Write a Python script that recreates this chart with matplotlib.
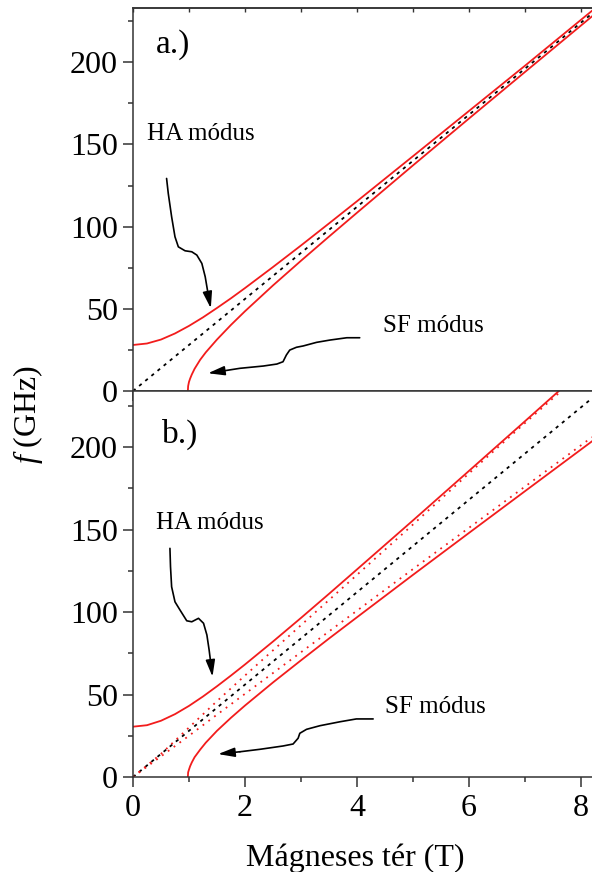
import matplotlib
matplotlib.use('Agg')
import matplotlib.pyplot as plt
from matplotlib.ticker import MultipleLocator

plt.rcParams['font.family'] = ['Liberation Serif', 'DejaVu Serif']
plt.rcParams['mathtext.fontset'] = 'custom'
plt.rcParams['mathtext.it'] = 'Liberation Serif:italic'
plt.rcParams['mathtext.rm'] = 'Liberation Serif'

# ---------------- data ----------------
# panel a
a_ha_B = [0, 0.25, 0.5, 0.75, 1.0, 1.25, 1.5, 1.75, 2.0, 2.5, 3.0, 3.5, 4.0, 5.0, 6.0, 7.0, 8.2]
a_ha_f = [28, 28.9, 31.3, 35.0, 39.6, 44.8, 50.5, 56.4, 62.6, 75.4, 88.5, 101.9, 115.4, 142.8, 170.3, 197.8, 231.3]
a_sf_B = [0.98, 0.985, 1.0, 1.02, 1.05, 1.1, 1.2, 1.3, 1.5, 1.75, 2.0, 2.5, 3.0, 3.5, 4.0, 5.0, 6.0, 7.0, 8.2]
a_sf_f = [0, 3.0, 5.5, 7.5, 10.0, 13.5, 19.0, 23.5, 31.3, 40.2, 48.5, 64.2, 79.2, 93.9, 108.4, 137.2, 165.7, 194.0, 227.9]
a_ref_B = [0, 8.2]
a_ref_f = [0, 229.6]

# panel b
b_ha_B = [0, 0.25, 0.5, 0.75, 1.0, 1.25, 1.5, 1.75, 2.0, 2.5, 3.0, 3.5, 4.0, 5.0, 6.0, 7.0, 7.7]
b_ha_f = [30.5, 31.4, 34.1, 38.1, 43.1, 48.8, 55.0, 61.5, 68.2, 82.1, 96.4, 111.0, 125.8, 155.5, 185.5, 215.6, 236.8]
b_sf_B = [0.98, 0.985, 1.0, 1.02, 1.05, 1.1, 1.2, 1.3, 1.5, 1.75, 2.0, 2.5, 3.0, 3.5, 4.0, 5.0, 6.0, 7.0, 8.2]
b_sf_f = [0, 2.8, 4.5, 6.5, 8.8, 12.0, 16.6, 20.8, 28.0, 35.9, 43.3, 57.3, 70.7, 83.9, 96.8, 122.5, 147.9, 173.2, 203.5]
b_up_dot_B = [0, 0.5, 1.0, 1.5, 2.0, 3.0, 4.0, 5.0, 6.0, 7.0, 7.65]
b_up_dot_f = [0, 14.0, 30.0, 46.0, 61.5, 92.0, 122.5, 153.0, 184.0, 214.5, 234.0]
b_lo_dot_B = [0, 0.5, 1.0, 1.5, 2.0, 3.0, 4.0, 5.0, 6.0, 7.0, 8.2]
b_lo_dot_f = [0, 12.5, 25.0, 37.8, 50.4, 75.6, 100.8, 126.0, 151.0, 176.0, 206.0]
b_ref_B = [0, 8.2]
b_ref_f = [0, 229.6]

# annotation arrow paths (data coords, last point = arrow tip)
a_ha_arrow_B = [0.60, 0.63, 0.69, 0.75, 0.81, 0.93, 1.05, 1.14, 1.23, 1.29, 1.33, 1.36, 1.39]
a_ha_arrow_f = [129.3, 120.2, 106.0, 93.8, 87.7, 85.3, 84.7, 82.7, 77.6, 69.5, 61.4, 55.3, 50.3]
a_sf_arrow_B = [4.05, 3.82, 3.52, 3.28, 3.04, 2.92, 2.80, 2.74, 2.68, 2.57, 2.33, 1.91, 1.61, 1.34]
a_sf_arrow_f = [32.4, 32.4, 31.0, 29.6, 27.4, 26.6, 24.9, 21.9, 17.8, 16.4, 15.2, 13.8, 12.2, 10.8]
b_ha_arrow_B = [0.66, 0.67, 0.69, 0.75, 0.84, 0.96, 1.05, 1.17, 1.26, 1.32, 1.36, 1.39, 1.42]
b_ha_arrow_f = [138.6, 127.5, 115.3, 106.2, 101.2, 94.7, 94.1, 96.2, 93.2, 86.1, 77.0, 68.9, 60.8]
b_sf_arrow_B = [4.29, 3.99, 3.70, 3.34, 3.10, 2.98, 2.95, 2.86, 2.68, 2.27, 1.91, 1.52]
b_sf_arrow_f = [35.2, 35.2, 33.5, 31.1, 28.9, 26.5, 23.5, 20.0, 18.8, 16.8, 15.3, 13.9]

RED = '#f21c1c'
FS = 23

fig = plt.figure(figsize=(5.92, 8.72), dpi=100)
L = 133 / 592
W = 1 - L
ax_a = fig.add_axes([L, 1 - 391 / 872, W, (391 - 8) / 872])
ax_b = fig.add_axes([L, 1 - 777 / 872, W, (777 - 391) / 872])


def style(ax, ytop, labels):
    ax.set_xlim(0, 8.2)
    ax.set_ylim(0, ytop)
    ax.xaxis.set_major_locator(MultipleLocator(2))
    ax.xaxis.set_minor_locator(MultipleLocator(1))
    ax.yaxis.set_major_locator(MultipleLocator(50))
    ax.yaxis.set_minor_locator(MultipleLocator(25))
    ax.tick_params(which='major', direction='out', length=7, width=1.1,
                   labelsize=FS, color='#333333', pad=4)
    ax.tick_params(which='minor', direction='out', length=3.5, width=1.1, color='#333333')
    ax.tick_params(axis='x', labelbottom=labels, pad=5)
    ax.spines['right'].set_visible(False)
    for s in ['left', 'bottom', 'top']:
        ax.spines[s].set_linewidth(1.1)
        ax.spines[s].set_color('#333333')


def arrow(ax, xs, ys):
    ax.plot(xs[:-1], ys[:-1], color='black', lw=1.2, solid_capstyle='round',
            solid_joinstyle='round', zorder=4)
    ax.annotate('', xy=(xs[-1], ys[-1]), xytext=(xs[-2], ys[-2]),
                arrowprops=dict(arrowstyle='-|>,head_length=1.0,head_width=0.28', color='black',
                                lw=1.2, shrinkA=0, shrinkB=0), zorder=4)


style(ax_a, 233, False)
style(ax_b, 234, True)
sec = ax_a.secondary_xaxis('top')
sec.xaxis.set_major_locator(MultipleLocator(1))
sec.tick_params(direction='in', length=3, width=1.0, labeltop=False, color='#333333')
sec.spines['top'].set_linewidth(1.1)
sec.spines['top'].set_color('#333333')

dash = (0, (1.8, 2.6))
dots = (0, (1, 3))

# panel a
ax_a.plot(a_ref_B, a_ref_f, color='black', lw=1.3, linestyle=dash)
ax_a.plot(a_ha_B, a_ha_f, color=RED, lw=1.3)
ax_a.plot(a_sf_B, a_sf_f, color=RED, lw=1.3)
arrow(ax_a, a_ha_arrow_B, a_ha_arrow_f)
arrow(ax_a, a_sf_arrow_B, a_sf_arrow_f)
ax_a.text(0.41, 205.5, 'a.)', fontsize=24, va='baseline', ha='left')
ax_a.text(0.25, 152.6, 'HA módus', fontsize=18, va='baseline', ha='left')
ax_a.text(4.46, 35.9, 'SF módus', fontsize=18, va='baseline', ha='left')

# panel b
ax_b.plot(b_ref_B, b_ref_f, color='black', lw=1.3, linestyle=dash)
ax_b.plot(b_up_dot_B, b_up_dot_f, color=RED, lw=1.3, linestyle=dots)
ax_b.plot(b_lo_dot_B, b_lo_dot_f, color=RED, lw=1.3, linestyle=dots)
ax_b.plot(b_ha_B, b_ha_f, color=RED, lw=1.3)
ax_b.plot(b_sf_B, b_sf_f, color=RED, lw=1.3)
arrow(ax_b, b_ha_arrow_B, b_ha_arrow_f)
arrow(ax_b, b_sf_arrow_B, b_sf_arrow_f)
ax_b.text(0.52, 202.4, 'b.)', fontsize=24, va='baseline', ha='left')
ax_b.text(0.41, 150.3, 'HA módus', fontsize=18, va='baseline', ha='left')
ax_b.text(4.5, 38.8, 'SF módus', fontsize=18, va='baseline', ha='left')

fig.text(355 / 592, 1 - 866 / 872, 'Mágneses tér (T)', fontsize=FS, ha='center', va='baseline')
fig.text(28 / 592, 1 - 414 / 872, r'$f$ (GHz)', fontsize=FS, rotation=90, ha='center', va='center')

fig.savefig('out.png', dpi=100)
